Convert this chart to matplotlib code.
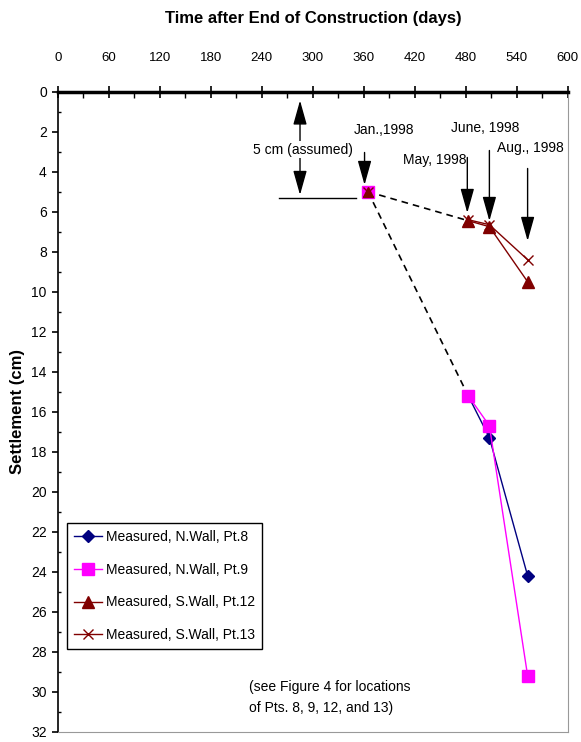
import matplotlib.pyplot as plt
from matplotlib.ticker import MultipleLocator

plt.rcParams['font.family'] = ['Liberation Sans', 'DejaVu Sans']

# Measured settlement data (days after end of construction, settlement in cm)
days = [365, 483, 508, 553]
pt8 = [5.0, 15.2, 17.3, 24.2]
pt9 = [5.0, 15.2, 16.7, 29.2]
pt12 = [5.0, 6.45, 6.75, 9.5]
pt13 = [5.0, 6.4, 6.65, 8.4]

labels = ["Measured, N.Wall, Pt.8", "Measured, N.Wall, Pt.9",
          "Measured, S.Wall, Pt.12", "Measured, S.Wall, Pt.13"]

# date markers
month_labels = ["Jan.,1998", "May, 1998", "June, 1998", "Aug., 1998"]
month_days = [361, 482, 508, 553]
arrow_top = [2.9, 3.15, 2.8, 3.7]
arrow_tip = [4.8, 6.2, 6.6, 7.6]
label_pos = [(384, 1.9), (444, 3.4), (503, 1.8), (556, 2.8)]

fig = plt.figure(figsize=(5.81, 7.42), dpi=100)
ax = fig.add_axes([0.0998, 0.0139, 0.877, 0.8625])

# dashed extrapolation from January reading to May reading
ax.plot(days[:2], pt9[:2], color='black', ls='--', lw=1.2, dashes=(4, 3))
ax.plot(days[:2], pt12[:2], color='black', ls='--', lw=1.2, dashes=(4, 3))

ax.plot(days[1:], pt8[1:], color='#000080', lw=1.0, marker='D', ms=6, label=labels[0])
ax.plot(days[1:], pt9[1:], color='#FF00FF', lw=1.0, marker='s', ms=9, label=labels[1])
ax.plot(days[1:], pt12[1:], color='#800000', lw=1.0, marker='^', ms=8, label=labels[2])
ax.plot(days[1:], pt13[1:], color='#800000', lw=1.0, marker='x', ms=7, label=labels[3])
ax.plot(days[0], pt9[0], color='#FF00FF', marker='s', ms=9, ls='none')
ax.plot(days[0], pt12[0], color='#800000', marker='^', ms=7, ls='none')
ax.plot(days[0], pt13[0], color='#800000', marker='x', ms=7, ls='none')

# assumed 5 cm settlement before first reading
ax.plot([260, 351], [5.3, 5.3], color='black', lw=1.0)
ax.annotate('', xy=(285, 0.3), xytext=(285, 5.3),
            arrowprops=dict(arrowstyle='<|-|>,head_length=1.0,head_width=0.28',
                            mutation_scale=15, color='black', lw=1.0))
ax.text(289, 2.9, "5 cm (assumed)", ha='center', va='center', fontsize=10,
        bbox=dict(facecolor='white', edgecolor='none', pad=1))

for lab, d, top, tip, pos in zip(month_labels, month_days, arrow_top, arrow_tip, label_pos):
    ax.annotate('', xy=(d, tip), xytext=(d, top),
                arrowprops=dict(arrowstyle='-|>,head_length=1.0,head_width=0.28',
                                mutation_scale=15, color='black', lw=1.0))
    ax.text(pos[0], pos[1], lab, ha='center', va='center', fontsize=10)

ax.text(225, 30.3, "(see Figure 4 for locations\nof Pts. 8, 9, 12, and 13)",
        ha='left', va='center', fontsize=10, linespacing=1.6)

ax.set_xlim(0, 600)
ax.set_ylim(32, 0)
ax.xaxis.tick_top()
ax.xaxis.set_major_locator(MultipleLocator(60))
ax.xaxis.set_minor_locator(MultipleLocator(30))
ax.yaxis.set_major_locator(MultipleLocator(2))
ax.yaxis.set_minor_locator(MultipleLocator(1))
ax.tick_params(axis='x', which='major', direction='inout', length=8, width=1.2,
               labelsize=9.5, pad=16)
ax.tick_params(axis='x', which='minor', direction='in', length=4, width=1.0)
ax.tick_params(axis='y', which='major', direction='out', length=4, width=1.2,
               labelsize=10, pad=4)
ax.tick_params(axis='y', which='minor', direction='in', length=2, width=1.0)

ax.spines['top'].set_linewidth(2.5)
ax.spines['left'].set_linewidth(1.2)
ax.spines['right'].set_color('#999999')
ax.spines['bottom'].set_color('#999999')

ax.legend(loc='upper left', bbox_to_anchor=(0.018, 0.326), fontsize=10,
          frameon=True, fancybox=False, edgecolor='black', framealpha=1,
          borderaxespad=0, handlelength=2.0, borderpad=0.5, labelspacing=1.35,
          handletextpad=0.3)

fig.text(0.54, 0.975, "Time after End of Construction (days)", ha='center',
         va='center', fontsize=12, fontweight='bold')
fig.text(0.03, 0.445, "Settlement (cm)", ha='center', va='center', rotation=90,
         fontsize=12, fontweight='bold')

fig.savefig('out.png', dpi=100)
